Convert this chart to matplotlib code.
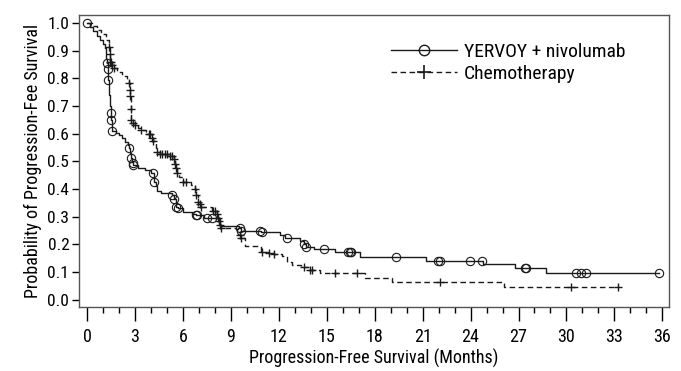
import numpy as np
import matplotlib
matplotlib.use("Agg")
import matplotlib.pyplot as plt
from matplotlib.ticker import MultipleLocator

plt.rcParams['font.family'] = ['Roboto Condensed', 'DejaVu Sans']

# YERVOY + nivolumab: step knots (month, probability after drop)
yn_t = [0, 0.2, 0.4, 0.6, 0.8, 1.0, 1.15, 1.22, 1.23, 1.29, 1.33, 1.38, 1.44, 1.48, 1.5,
        1.55, 1.58, 1.8, 2.0, 2.2, 2.4, 2.55, 2.62, 2.7, 2.73, 2.8, 2.85, 2.88, 3.2, 3.6,
        4.0, 4.18, 4.2, 4.3, 4.4, 4.6, 5.2, 5.35, 5.45, 5.55, 5.6, 5.7, 6.0, 6.6, 6.85,
        7.3, 8.3, 9.5, 9.62, 10.9, 12.05, 12.4, 13.3, 13.55, 13.68, 14.2, 15.5, 17.06,
        21.2, 24.77, 26.8, 28.73, 35.8]
yn_s = [1.0, 0.985, 0.97, 0.955, 0.94, 0.925, 0.91, 0.87, 0.855, 0.836, 0.796, 0.74, 0.70,
        0.674, 0.65, 0.625, 0.611, 0.604, 0.597, 0.585, 0.572, 0.56, 0.548, 0.53, 0.512,
        0.5, 0.493, 0.487, 0.475, 0.47, 0.46, 0.44, 0.427, 0.41, 0.395, 0.387, 0.385,
        0.379, 0.363, 0.345, 0.337, 0.331, 0.319, 0.31, 0.305, 0.295, 0.265, 0.261, 0.25,
        0.245, 0.235, 0.223, 0.212, 0.2, 0.19, 0.183, 0.172, 0.156, 0.142, 0.129, 0.115,
        0.096, 0.096]
yn_cens = [0, 1.23, 1.29, 1.33, 1.48, 1.5, 1.58, 2.62, 2.73, 2.85, 2.88, 4.1, 4.2, 5.35,
           5.45, 5.6, 5.7, 6.85, 6.9, 7.5, 7.8, 9.55, 9.65, 10.85, 10.95, 12.5, 13.6,
           13.7, 14.8, 16.35, 16.45, 16.55, 19.35, 21.95, 22.1, 23.94, 24.73, 27.4, 27.5,
           30.6, 30.9, 31.2, 35.8]

# Chemotherapy
ch_t = [0, 0.3, 0.6, 0.9, 1.2, 1.38, 1.42, 1.45, 1.55, 1.7, 1.9, 2.2, 2.5, 2.62, 2.68,
        2.71, 2.74, 2.77, 2.85, 3.0, 3.2, 3.4, 3.7, 3.9, 4.05, 4.15, 4.3, 4.4, 4.55, 5.2,
        5.45, 5.52, 5.58, 5.63, 5.75, 6.0, 6.5, 6.75, 6.82, 6.92, 7.05, 7.15, 7.8, 8.15,
        8.22, 8.28, 8.33, 8.38, 9.3, 9.55, 9.65, 9.9, 10.9, 11.4, 11.7, 12.2, 12.5,
        12.85, 13.4, 13.95, 14.6, 17.4, 19.1, 26.1, 33.2]
ch_s = [1.0, 0.99, 0.975, 0.96, 0.94, 0.915, 0.89, 0.86, 0.85, 0.838, 0.825, 0.81, 0.795,
        0.785, 0.76, 0.735, 0.69, 0.65, 0.64, 0.632, 0.622, 0.614, 0.605, 0.6, 0.585,
        0.575, 0.55, 0.535, 0.528, 0.52, 0.51, 0.49, 0.475, 0.46, 0.445, 0.427, 0.415,
        0.40, 0.38, 0.355, 0.345, 0.337, 0.32, 0.31, 0.295, 0.285, 0.27, 0.26, 0.255,
        0.235, 0.222, 0.193, 0.174, 0.168, 0.165, 0.157, 0.138, 0.126, 0.117, 0.108,
        0.097, 0.08, 0.066, 0.046, 0.046]
ch_cens = [1.38, 1.42, 1.45, 1.5, 1.55, 1.7, 2.62, 2.68, 2.71, 2.74, 2.77, 2.85, 3.0, 3.4,
           3.9, 3.95, 4.05, 4.15, 4.4, 4.55, 4.7, 4.85, 5.0, 5.2, 5.3, 5.45, 5.52, 5.58,
           5.63, 6.0, 6.2, 6.75, 6.82, 6.92, 7.05, 7.15, 7.9, 8.0, 8.15, 8.22, 8.28, 8.33,
           8.38, 9.55, 9.65, 10.95, 11.4, 11.7, 13.6, 13.95, 14.05, 15.5, 16.9, 22.06,
           30.3, 33.2]


def step_at(times, surv, pts):
    idx = np.searchsorted(times, pts, side='right') - 1
    return np.asarray(surv)[idx]


fig = plt.figure(figsize=(6.81, 3.71), dpi=100)
ax = fig.add_axes([0.116, 0.1725, 0.866, 0.7875])

col = '#1a1a1a'
dash = (0, (4, 2.5))
ax.plot(yn_t, yn_s, drawstyle='steps-post', color=col, lw=1.0)
ax.plot(yn_cens, step_at(yn_t, yn_s, yn_cens), 'o', mfc='none', mec=col, ms=6, mew=0.8)
ax.plot(ch_t, ch_s, drawstyle='steps-post', color=col, lw=1.0, ls=dash)
ax.plot(ch_cens, step_at(ch_t, ch_s, ch_cens), '+', color=col, ms=6, mew=1.0)

# legend proxies
ax.plot([], [], color=col, lw=1.0, marker='o', mfc='none', mec=col, ms=7.5,
        label='YERVOY + nivolumab')
ax.plot([], [], color=col, lw=1.0, ls=dash, marker='+', ms=10, mew=1.2,
        label='Chemotherapy')
h, l = ax.get_legend_handles_labels()
ax.legend(h, l, loc='upper right', bbox_to_anchor=(0.94, 0.93), borderaxespad=0,
          frameon=False, fontsize=14, handlelength=3.4, handletextpad=0.35,
          labelspacing=0.2)

ax.set_xlim(-0.5, 36.4)
ax.set_ylim(-0.026, 1.03)
ax.xaxis.set_major_locator(MultipleLocator(3))
ax.xaxis.set_minor_locator(MultipleLocator(1))
ax.set_yticks(np.arange(0, 1.01, 0.1))
ax.set_yticklabels([f'{v:.1f}' for v in np.arange(0, 1.01, 0.1)])
ax.tick_params(axis='x', which='major', length=10, width=1.0, labelsize=13, pad=5)
ax.tick_params(axis='x', which='minor', length=4, width=1.0)
ax.tick_params(axis='y', length=5, width=1.0, labelsize=12.5, pad=2)
for sp in ax.spines.values():
    sp.set_color('#555555')
    sp.set_linewidth(1.0)

ax.set_xlabel('Progression-Free Survival (Months)', fontsize=13, labelpad=2)
ax.set_ylabel('Probability of Progression-Fee Survival', fontsize=13, labelpad=4)

fig.savefig('out.png', dpi=100)
